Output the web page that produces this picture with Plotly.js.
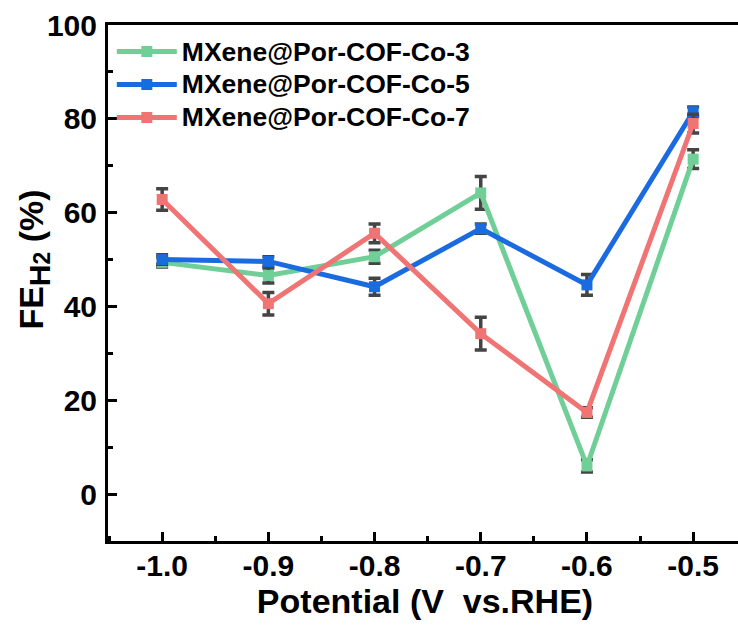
<!DOCTYPE html>
<html>
<head>
<meta charset="utf-8">
<script src="https://cdn.plot.ly/plotly-3.0.1.min.js"></script>
<style>
html,body{margin:0;padding:0;overflow:hidden;background:#fff;}
#chart{width:746px;height:630px;}
</style>
</head>
<body>
<div id="chart"></div>
<script>
// Data
var potentials = [-1.0, -0.9, -0.8, -0.7, -0.6, -0.5];
var seriesNames = ["MXene@Por-COF-Co-3", "MXene@Por-COF-Co-5", "MXene@Por-COF-Co-7"];
var co3Values = [49.4, 46.6, 50.6, 64.2, 6.0, 71.4];
var co3Errors = [1.0, 1.6, 1.4, 3.5, 1.3, 2.0];
var co5Values = [50.0, 49.6, 44.2, 56.6, 44.6, 81.5];
var co5Errors = [1.0, 1.0, 1.8, 1.0, 2.2, 1.0];
var co7Values = [62.8, 40.6, 55.6, 34.2, 17.4, 79.0];
var co7Errors = [2.3, 2.4, 2.0, 3.5, 1.0, 2.0];
var yTickVals = [0, 20, 40, 60, 80, 100];
var xTickVals = [-1.0, -0.9, -0.8, -0.7, -0.6, -0.5];
var xTickText = ["-1.0", "-0.9", "-0.8", "-0.7", "-0.6", "-0.5"];
var xTitle = "Potential (V  vs.RHE)";
var yTitle = "FE<sub><span style=\"font-size:30px\">H</span><span style=\"font-size:23px\">2</span></sub> (%)";

var colors = ["#6fcf97", "#1b6be0", "#f07474"];
var allValues = [co3Values, co5Values, co7Values];
var allErrors = [co3Errors, co5Errors, co7Errors];

var traces = seriesNames.map(function(name, i){
  return {
    type: "scatter",
    mode: "lines+markers",
    name: "<span style=\"font-size:26.5px\">" + name + "</span>",
    x: potentials,
    y: allValues[i],
    line: {color: colors[i], width: 5},
    marker: {symbol: "square", size: 11, color: colors[i]},
    error_y: {type: "data", array: allErrors[i], visible: true, color: "#444444", thickness: 3.5, width: 6},
    cliponaxis: false
  };
});

var font = "'Liberation Sans', Arial, sans-serif";
var layout = {
  width: 746,
  height: 630,
  margin: {l: 108, r: 4, t: 25, b: 89},
  paper_bgcolor: "#ffffff",
  plot_bgcolor: "#ffffff",
  font: {family: font, color: "#000000"},
  showlegend: true,
  legend: {
    x: 0.006, y: 0.99, xanchor: "left", yanchor: "top",
    bgcolor: "rgba(0,0,0,0)",
    font: {family: font, size: 23, color: "#000000", weight: "bold"},
    itemwidth: 60,
    tracegroupgap: 0
  },
  xaxis: {
    range: [-1.051, -0.454],
    tickvals: xTickVals,
    ticktext: xTickText,
    ticks: "inside", ticklen: 9, tickwidth: 3, tickcolor: "#000",
    minor: {dtick: 0.05, tick0: -1.0, ticks: "inside", ticklen: 5, tickwidth: 3, tickcolor: "#000", showgrid: false},
    showline: true, linewidth: 3, linecolor: "#000", mirror: true,
    showgrid: false, zeroline: false,
    tickfont: {family: font, size: 30, color: "#000", weight: "bold"},
    ticklabelstandoff: -4,
    title: {text: xTitle, font: {family: font, size: 34, color: "#000", weight: "bold"}, standoff: 4}
  },
  yaxis: {
    range: [-10, 100],
    tickvals: yTickVals,
    ticks: "inside", ticklen: 9, tickwidth: 3, tickcolor: "#000",
    minor: {dtick: 10, tick0: 0, ticks: "inside", ticklen: 5, tickwidth: 3, tickcolor: "#000", showgrid: false},
    showline: true, linewidth: 3, linecolor: "#000", mirror: true,
    showgrid: false, zeroline: false,
    tickfont: {family: font, size: 30, color: "#000", weight: "bold"},
    ticklabelstandoff: 2
  },
  annotations: [{
    text: yTitle,
    xref: "paper", yref: "paper",
    x: -0.117, y: 0.545,
    xanchor: "center", yanchor: "middle",
    textangle: -90,
    showarrow: false,
    font: {family: font, size: 34, color: "#000", weight: "bold"}
  }]
};

Plotly.newPlot("chart", traces, layout, {displayModeBar: false, staticPlot: true});
</script>
</body>
</html>
